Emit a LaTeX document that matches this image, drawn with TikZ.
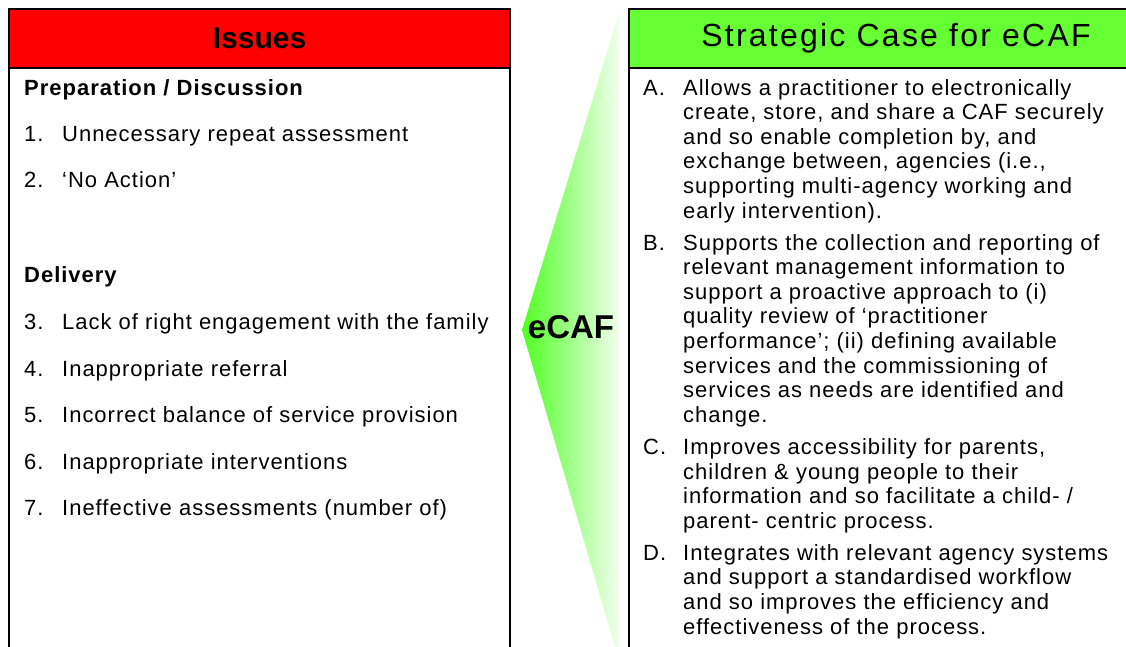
\documentclass[tikz,border=0pt]{standalone}
\usepackage{fontspec}
\setmainfont{Liberation Sans}
\newfontfamily\bodyfont[LetterSpace=4.5]{Liberation Sans}
\newfontfamily\headfont[LetterSpace=7]{Liberation Sans}
\usepackage{tikz}
\usetikzlibrary{positioning}
\definecolor{hdrred}{RGB}{255,0,0}
\definecolor{hdrgreen}{RGB}{102,255,51}
\definecolor{wedgedark}{RGB}{80,255,35}
\definecolor{wedgelight}{RGB}{242,255,238}

\begin{document}
\begin{tikzpicture}[x=1pt,y=-1pt,
    header/.style={draw=black, line width=2pt, inner sep=0pt, minimum height=59pt},
    label/.style={anchor=base west, inner sep=0pt, font=\bodyfont\fontsize{22}{24.6}\selectfont},
    itemtext/.style={label, align=left}]
        \useasboundingbox (0,0) rectangle (1126,646);
        \clip (0,0) rectangle (1126,646);
        % Fleche eCAF
        \shade[left color=wedgedark, right color=wedgelight] (619,13) -- (522,330) -- (619,660) -- cycle;
        \node[anchor=base, inner sep=0pt, font=\bfseries\fontsize{33}{33}\selectfont] (ecaf) at (571,338) {eCAF};
        % Cadre de gauche
        \draw[line width=2pt] (9,68) rectangle (510,670);
        \node[header, fill=hdrred, minimum width=501pt, font=\bfseries\fontsize{30}{30}\selectfont] (issues) at (259.5,38.5) {Issues};
        % Cadre de droite
        \draw[line width=2pt] (629,68) rectangle (1163,670);
        \node[header, fill=hdrgreen, minimum width=534pt, font=\headfont\fontsize{32}{32}\selectfont] (strat) at (896,38.5) {Strategic Case for eCAF};
        % Liste des problemes
        \node[label, font=\bodyfont\bfseries\fontsize{22}{24.6}\selectfont] (prep) at (24,95) {Preparation / Discussion};
        \node[label] (n1) at (24,141) {1.};
        \node[label] (i1) at (62,141) {Unnecessary repeat assessment};
        \node[label] (n2) at (24,187) {2.};
        \node[label] (i2) at (62,187) {‘No Action’};
        \node[label, font=\bodyfont\bfseries\fontsize{22}{24.6}\selectfont] (deliv) at (24,282) {Delivery};
        \node[label] (n3) at (24,329) {3.};
        \node[label] (i3) at (62,329) {Lack of right engagement with the family};
        \node[label] (n4) at (24,376) {4.};
        \node[label] (i4) at (62,376) {Inappropriate referral};
        \node[label] (n5) at (24,422) {5.};
        \node[label] (i5) at (62,422) {Incorrect balance of service provision};
        \node[label] (n6) at (24,469) {6.};
        \node[label] (i6) at (62,469) {Inappropriate interventions};
        \node[label] (n7) at (24,515) {7.};
        \node[label] (i7) at (62,515) {Ineffective assessments (number of)};
        % Arguments (texte place par sa derniere ligne)
        \node[label] (la) at (643,95) {A.};
        \node[itemtext] (ta) at (683,218) {Allows a practitioner to electronically\\
            create, store, and share a CAF securely\\
            and so enable completion by, and\\
            exchange between, agencies (i.e.,\\
            supporting multi-agency working and\\
            early intervention).};
        \node[label] (lb) at (643,250) {B.};
        \node[itemtext] (tb) at (683,422.2) {Supports the collection and reporting of\\
            relevant management information to\\
            support a proactive approach to (i)\\
            quality review of ‘practitioner\\
            performance’; (ii) defining available\\
            services and the commissioning of\\
            services as needs are identified and\\
            change.};
        \node[label] (lc) at (643,454.4) {C.};
        \node[itemtext] (tc) at (683,528.2) {Improves accessibility for parents,\\
            children \& young people to their\\
            information and so facilitate a child- /\\
            parent- centric process.};
        \node[label] (ld) at (643,560.2) {D.};
        \node[itemtext] (td) at (683,634) {Integrates with relevant agency systems\\
            and support a standardised workflow\\
            and so improves the efficiency and\\
            effectiveness of the process.};
    \end{tikzpicture}
\end{document}
